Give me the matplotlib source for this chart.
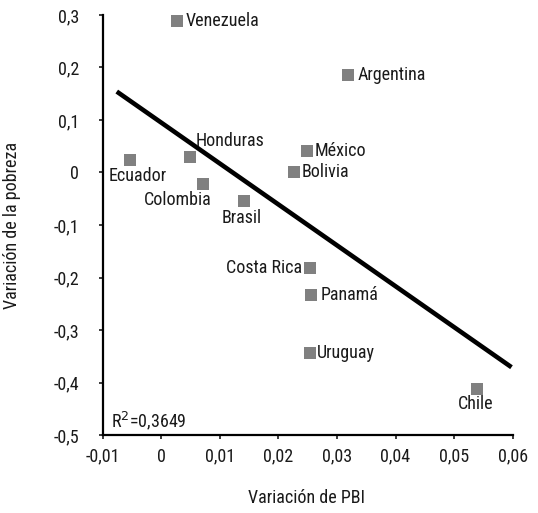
import numpy as np
import matplotlib
matplotlib.use("Agg")
import matplotlib.pyplot as plt

plt.rcParams['font.family'] = ['Roboto Condensed', 'Archivo Narrow', 'PT Sans Narrow',
                               'Liberation Sans Narrow', 'DejaVu Sans']

# data
paises = ['Venezuela', 'Argentina', 'Honduras', 'Ecuador', 'Colombia', 'Brasil',
          'México', 'Bolivia', 'Costa Rica', 'Panamá', 'Uruguay', 'Chile']
var_pbi = [0.0027, 0.0318, 0.0049, -0.0053, 0.0072, 0.0141,
           0.0249, 0.0226, 0.0254, 0.0256, 0.0254, 0.0539]
var_pobreza = [0.289, 0.185, 0.030, 0.024, -0.021, -0.054,
               0.040, 0.001, -0.181, -0.234, -0.344, -0.412]
trend_x = [-0.0076, 0.0598]

# label offsets in pixels (dx, dy, ha, va)
offsets = {
    'Venezuela': (9, 0, 'left', 'center'),
    'Argentina': (10, 0, 'left', 'center'),
    'Honduras': (6, 16, 'left', 'center'),
    'Ecuador': (7, -16, 'center', 'center'),
    'Colombia': (8, -16, 'right', 'center'),
    'Brasil': (-2, -17, 'center', 'center'),
    'México': (8, 0, 'left', 'center'),
    'Bolivia': (8, 0, 'left', 'center'),
    'Costa Rica': (-8, 0, 'right', 'center'),
    'Panamá': (9, 0, 'left', 'center'),
    'Uruguay': (7, 0, 'left', 'center'),
    'Chile': (-1, -15, 'center', 'center'),
}

fig = plt.figure(figsize=(5.38, 5.13), dpi=100)
ax = fig.add_axes([0.1909, 0.152, 0.762, 0.8188])

ax.scatter(var_pbi, var_pobreza, marker='s', s=75, color='#808080', zorder=3, linewidths=0)

# linear trend (least squares)
coef = np.polyfit(var_pbi, var_pobreza, 1)
ty = np.polyval(coef, trend_x)
ax.plot(trend_x, ty, color='black', linewidth=3.3, solid_capstyle='butt', zorder=2)

for name, x, y in zip(paises, var_pbi, var_pobreza):
    dx, dy, ha, va = offsets[name]
    ax.annotate(name, (x, y), xytext=(dx, dy), textcoords='offset pixels',
                ha=ha, va=va, fontsize=13, color='#1a1a1a')

ax.text(0.02, 0.018, 'R$^2$=0,3649', transform=ax.transAxes, fontsize=13,
        va='baseline', color='#1a1a1a')

ax.set_xlim(-0.01, 0.06)
ax.set_ylim(-0.5, 0.3)
xt = [-0.01, 0, 0.01, 0.02, 0.03, 0.04, 0.05, 0.06]
yt = [-0.5, -0.4, -0.3, -0.2, -0.1, 0, 0.1, 0.2, 0.3]
ax.set_xticks(xt)
ax.set_xticklabels(['-0,01', '0', '0,01', '0,02', '0,03', '0,04', '0,05', '0,06'])
ax.set_yticks(yt)
ax.set_yticklabels(['-0,5', '-0,4', '-0,3', '-0,2', '-0,1', '0', '0,1', '0,2', '0,3'])

for side in ['top', 'right']:
    ax.spines[side].set_visible(False)
for side in ['left', 'bottom']:
    ax.spines[side].set_linewidth(1.6)
ax.tick_params(axis='both', direction='out', length=3, width=1.2, labelsize=13,
               colors='#1a1a1a')
ax.tick_params(axis='y', pad=14)
ax.tick_params(axis='x', pad=6)
ax.patch.set_alpha(0)

fig.text(12 / 538, 1 - 225 / 513, 'Variación de la pobreza', rotation=90,
         ha='center', va='center', fontsize=13, color='#1a1a1a')
fig.text(307 / 538, 1 - 498 / 513, 'Variación de PBI', ha='center', va='center',
         fontsize=13, color='#1a1a1a')

fig.savefig('out.png', dpi=100)
